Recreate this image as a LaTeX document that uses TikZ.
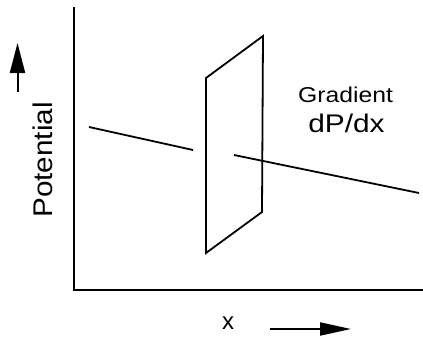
\documentclass[tikz,border=0pt]{standalone}
\usepackage{fontspec}
\usepackage{graphicx}
\setmainfont{Liberation Sans}
\usetikzlibrary{arrows.meta}
\begin{document}
\begin{tikzpicture}[x=1pt,y=-1pt,
  axis/.style={line width=2.3pt},
  thin line/.style={line width=1.8pt},
  dirarrow/.style={line width=2pt,-{Triangle[length=30pt,width=15pt]}},
  lbl/.style={inner sep=0pt,anchor=base}]
\useasboundingbox (0,0) rectangle (423,340);
% axes
\coordinate (ytop) at (74,7);
\coordinate (origin) at (74,290);
\coordinate (xend) at (423,290);
\draw[axis] (ytop) -- (origin) -- (xend);
% potential lines
\coordinate (l1a) at (89,127);
\coordinate (l1b) at (193,150);
\coordinate (l2a) at (234,155);
\coordinate (l2b) at (419,193);
\draw[thin line] (l1a) -- (l1b);
\draw[thin line] (l2a) -- (l2b);
% plane
\coordinate (p1) at (206,78);
\coordinate (p2) at (263,36);
\coordinate (p3) at (262,212);
\coordinate (p4) at (206,253);
\draw[thin line] (p1) -- (p2) -- (p3) -- (p4) -- cycle;
% labels
\node[lbl] (grad) at (345.5,102) {\fontsize{21.5pt}{21.5pt}\selectfont\scalebox{1.15}[1]{Gradient}};
\node[lbl] (dpdx) at (346.5,132) {\fontsize{25.5pt}{25.5pt}\selectfont\scalebox{1.17}[1]{dP/dx}};
\node[lbl,rotate=90] (pot) at (52,160) {\fontsize{27pt}{27pt}\selectfont\scalebox{1.1}[1]{Potential}};
\node[lbl] (xl) at (228,329.5) {\fontsize{24pt}{24pt}\selectfont x};
% direction arrows
\coordinate (ua) at (17.5,92);
\coordinate (ub) at (17.5,43);
\draw[dirarrow] (ua) -- (ub);
\coordinate (ra) at (270,329);
\coordinate (rb) at (351,329);
\draw[dirarrow,-{Triangle[length=31pt,width=13pt]}] (ra) -- (rb);
\end{tikzpicture}
\end{document}
